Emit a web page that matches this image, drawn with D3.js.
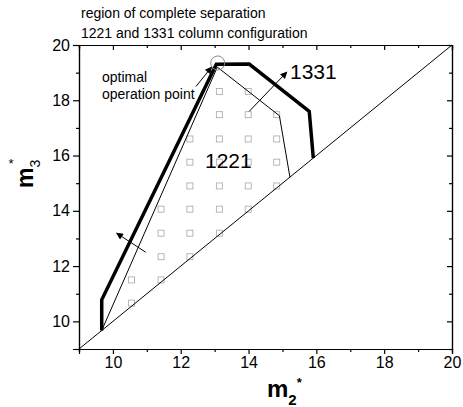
<!DOCTYPE html>
<html>
<head>
<meta charset="utf-8">
<script src="https://cdn.jsdelivr.net/npm/d3@7"></script>
<style>
  body { margin: 0; background: #fff; }
  svg { font-family: Arial, "Liberation Sans", sans-serif; }
  .axis path, .axis line { stroke: #000; stroke-width: 1.2; }
  .axis text { font-size: 16px; fill: #000; }
</style>
</head>
<body>
<div id="graph"></div>
<script>
// boundary of the 1331 configuration (thick)
let thickX = [9.67, 9.67, 13.05, 14.02, 15.79, 15.91];
let thickY = [9.67, 10.78, 19.3, 19.31, 17.6, 15.91];
// boundary of the 1221 configuration (thin)
let thinX = [9.67, 13.08, 14.91, 15.22];
let thinY = [9.67, 19.2, 17.44, 15.22];
// simulated points inside the 1221 region
let sqX = [10.55, 10.55, 11.42, 11.42, 12.27, 11.42, 12.27, 13.14,
           11.42, 12.27, 13.14, 13.99, 12.27, 13.14, 13.99, 14.83,
           12.27, 13.14, 13.99, 14.83, 12.27, 13.14, 13.99, 14.83,
           13.14, 13.99, 14.83, 13.14, 13.99];
let sqY = [10.66, 11.5, 11.5, 12.34, 12.34, 13.19, 13.19, 13.19,
           14.06, 14.06, 14.06, 14.06, 14.9, 14.9, 14.9, 14.9,
           15.76, 15.76, 15.76, 15.76, 16.6, 16.6, 16.6, 16.6,
           17.48, 17.48, 17.48, 18.32, 18.32];
let optPoint = [13.09, 19.35];
let xTicks = [10, 12, 14, 16, 18, 20];
let yTicks = [10, 12, 14, 16, 18, 20];
let minorTicks = [9, 11, 13, 15, 17, 19];
// arrows: [x1, y1, x2, y2]
let arrows = [[12.45, 18.5, 12.91, 19.2], [14.02, 17.6, 15.13, 19.02], [10.97, 12.5, 10.11, 13.19]];

let width = 463, height = 407;
let padL = 79, padR = 452, padT = 45, padB = 349;

let x = d3.scaleLinear().domain([9, 20]).range([padL, padR]);
let y = d3.scaleLinear().domain([9, 20]).range([padB, padT]);

let svg = d3.select("#graph").append("svg").attr("width", width).attr("height", height);

svg.append("defs").append("marker")
    .attr("id", "head").attr("viewBox", "0 0 10 10")
    .attr("refX", 9).attr("refY", 5)
    .attr("markerWidth", 9).attr("markerHeight", 7)
    .attr("markerUnits", "userSpaceOnUse")
    .attr("orient", "auto")
  .append("path").attr("d", "M0,0 L10,5 L0,10 z").attr("fill", "#000");

// axes
svg.append("g").attr("class", "axis").attr("transform", "translate(0," + padB + ")")
    .call(d3.axisBottom(x).tickValues(xTicks).tickSize(5).tickPadding(3).tickFormat(d3.format("d")));
svg.append("g").attr("class", "axis").attr("transform", "translate(0," + padB + ")")
    .call(d3.axisBottom(x).tickValues(minorTicks).tickSize(3).tickFormat(""));
svg.append("g").attr("class", "axis").attr("transform", "translate(" + padL + ",0)")
    .call(d3.axisLeft(y).tickValues(yTicks).tickSize(6).tickPadding(3).tickFormat(d3.format("d")));
svg.append("g").attr("class", "axis").attr("transform", "translate(" + padL + ",0)")
    .call(d3.axisLeft(y).tickValues(minorTicks).tickSize(3).tickFormat(""));
svg.append("g").attr("class", "axis").attr("transform", "translate(0," + padT + ")")
    .call(d3.axisTop(x).tickValues(xTicks).tickSize(-5).tickFormat(""));
svg.append("g").attr("class", "axis").attr("transform", "translate(0," + padT + ")")
    .call(d3.axisTop(x).tickValues(minorTicks).tickSize(-3).tickFormat(""));
svg.append("g").attr("class", "axis").attr("transform", "translate(" + padR + ",0)")
    .call(d3.axisRight(y).tickValues(yTicks).tickSize(-5).tickFormat(""));
svg.append("g").attr("class", "axis").attr("transform", "translate(" + padR + ",0)")
    .call(d3.axisRight(y).tickValues(minorTicks).tickSize(-3).tickFormat(""));

// squares
let sq = d3.range(sqX.length);
svg.selectAll("rect.sq").data(sq).enter().append("rect")
    .attr("class", "sq")
    .attr("x", i => x(sqX[i]) - 3).attr("y", i => y(sqY[i]) - 3)
    .attr("width", 6).attr("height", 6)
    .attr("fill", "none").attr("stroke", "#b0b0b0").attr("stroke-width", 0.9);

// diagonal
svg.append("line")
    .attr("x1", x(9)).attr("y1", y(9)).attr("x2", x(20)).attr("y2", y(20))
    .attr("stroke", "#000").attr("stroke-width", 1);

let line = d3.line().x(d => x(d[0])).y(d => y(d[1]));
svg.append("path").datum(thinX.map((v, i) => [v, thinY[i]]))
    .attr("d", line).attr("fill", "none").attr("stroke", "#000").attr("stroke-width", 1);
svg.append("path").datum(thickX.map((v, i) => [v, thickY[i]]))
    .attr("d", line).attr("fill", "none").attr("stroke", "#000").attr("stroke-width", 3.5)
    .attr("stroke-linejoin", "miter");

svg.append("circle")
    .attr("cx", x(optPoint[0])).attr("cy", y(optPoint[1])).attr("r", 7)
    .attr("fill", "none").attr("stroke", "#888").attr("stroke-width", 1);

svg.selectAll("line.arrow").data(arrows).enter().append("line")
    .attr("class", "arrow")
    .attr("x1", d => x(d[0])).attr("y1", d => y(d[1]))
    .attr("x2", d => x(d[2])).attr("y2", d => y(d[3]))
    .attr("stroke", "#000").attr("stroke-width", 1)
    .attr("marker-end", "url(#head)");

// texts
svg.append("text").attr("x", 81).attr("y", 18).attr("font-size", 14).text("region of complete separation");
svg.append("text").attr("x", 81).attr("y", 37.5).attr("font-size", 14).text("1221 and 1331 column configuration");
svg.append("text").attr("x", 102).attr("y", 82).attr("font-size", 14).text("optimal");
svg.append("text").attr("x", 102).attr("y", 99).attr("font-size", 14).text("operation point");
svg.append("text").attr("x", 290).attr("y", 79).attr("font-size", 21).text("1331");
svg.append("text").attr("x", 205).attr("y", 168).attr("font-size", 21).text("1221");

let xl = svg.append("text").attr("x", 267).attr("y", 397)
    .attr("font-size", 24).attr("font-weight", "bold");
xl.append("tspan").text("m");
xl.append("tspan").attr("font-size", 15).attr("dy", 8).text("2");
xl.append("tspan").attr("font-size", 13).attr("dy", -18).attr("dx", 0).text("*");

let yl = svg.append("text").attr("transform", "translate(33,188) rotate(-90)")
    .attr("font-size", 23).attr("font-weight", "bold");
yl.append("tspan").text("m");
yl.append("tspan").attr("font-size", 14).attr("dy", 7).attr("font-weight", "normal").text("3");
svg.append("text").attr("x", 11).attr("y", 168).attr("text-anchor", "middle")
    .attr("font-size", 13).text("*");
</script>
</body>
</html>
